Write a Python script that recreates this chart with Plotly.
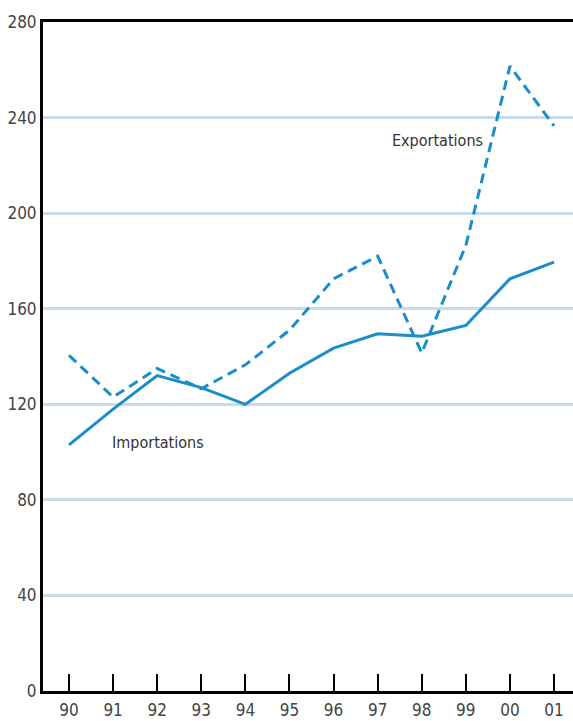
import plotly.graph_objects as go

years = ["90", "91", "92", "93", "94", "95", "96", "97", "98", "99", "00", "01"]
importations = [103, 118, 132, 127, 120, 133, 143.5, 149.5, 148.5, 153, 172.5, 179.5]
exportations = [140.5, 123, 135, 126.5, 136.5, 151, 172.5, 182, 141.5, 186.5, 261.5, 236.5]
y_ticks = [0, 40, 80, 120, 160, 200, 240, 280]

x = list(range(len(years)))
blue = "#1b8ec8"
font_family = "DejaVu Sans Condensed, Liberation Sans Narrow, sans-serif"

fig = go.Figure()
fig.add_trace(go.Scatter(x=x, y=exportations, mode="lines",
                         line=dict(color=blue, width=3, dash="10px,6px"), name="Exportations"))
fig.add_trace(go.Scatter(x=x, y=importations, mode="lines",
                         line=dict(color=blue, width=3), name="Importations"))

fig.add_annotation(x=7.28, y=230.6, xref="x", yref="y", text="Exportations", showarrow=False,
                   xanchor="left", yanchor="middle", font=dict(size=16, color="#333333", family=font_family))
fig.add_annotation(x=0.93, y=103.8, xref="x", yref="y", text="Importations", showarrow=False,
                   xanchor="left", yanchor="middle", font=dict(size=16, color="#333333", family=font_family))

fig.update_layout(
    width=573, height=721,
    margin=dict(l=43, r=0, t=22, b=30),
    paper_bgcolor="white", plot_bgcolor="white",
    showlegend=False,
    font=dict(family=font_family, color="#444444", size=17),
    xaxis=dict(range=[-0.59, 11.43], tickmode="array", tickvals=x, ticktext=years,
               showline=True, linecolor="black", linewidth=3, mirror=True,
               ticks="inside", ticklen=17, tickwidth=2, tickcolor="black",
               showgrid=False, zeroline=False, fixedrange=True, automargin=False,
               ticklabelstandoff=2,
               tickfont=dict(size=17, color="#444444")),
    yaxis=dict(range=[0, 280], tickmode="array", tickvals=y_ticks,
               showline=True, linecolor="black", linewidth=3,
               showgrid=True, gridcolor="#c6dced", gridwidth=3,
               zeroline=False, ticks="", fixedrange=True, automargin=False,
               tickfont=dict(size=17, color="#444444")),
)

fig.write_html("out.html", post_script="document.body.style.margin='0px';document.body.style.overflow='hidden';",
               config={"displayModeBar": False})
